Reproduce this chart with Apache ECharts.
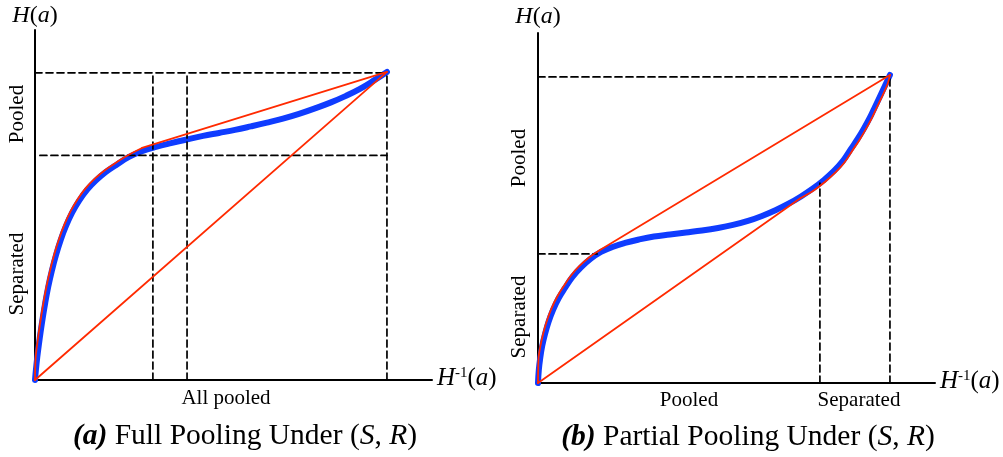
<!DOCTYPE html>
<html>
<head>
<meta charset="utf-8">
<script src="https://cdn.jsdelivr.net/npm/echarts@6/dist/echarts.min.js"></script>
<style>
html,body{margin:0;padding:0;background:#fff;}
#chart{width:1003px;height:457px;}
</style>
</head>
<body>
<div id="chart"></div>
<script>
// ---------- data (units: endpoint of curve = (100,100)) ----------
const leftBlue = [[0,0],[0.28,3.57],[0.65,7.47],[1.08,11.36],[1.59,15.58],[2.19,20.13],[2.90,25.0],[3.75,30.19],[4.77,35.39],[5.97,40.58],[7.30,45.45],[8.81,50.0],[10.51,54.22],[12.5,58.12],[14.77,61.69],[17.33,64.77],[20.17,67.53],[23.30,69.97],[26.70,72.40],[30.40,74.25],[34.38,75.65],[38.64,76.88],[43.18,78.08],[47.73,79.22],[52.27,80.19],[56.82,81.17],[61.36,82.31],[65.91,83.51],[70.45,84.81],[75.0,86.36],[79.55,88.15],[84.09,90.10],[88.35,92.21],[92.33,94.48],[96.31,97.24],[100,100]];
const leftRedCurve = [[0,0],[0.06,4.06],[0.23,7.95],[0.65,11.85],[1.16,16.07],[1.76,20.62],[2.47,25.49],[3.32,30.68],[4.35,35.88],[5.54,41.07],[6.88,45.94],[8.38,50.49],[10.09,54.71],[12.07,58.60],[14.35,62.18],[16.90,65.26],[19.74,68.02],[22.87,70.45],[26.28,72.89],[30.40,75.32]];
const leftRedTangent = [[30.40,75.32],[100,100]];
const leftChord = [[0,0],[100,100]];
const leftDashed = [
  [[0,99.7],[100,99.7]],
  [[1.4,72.9],[100,72.9]],
  [[33.5,0],[33.5,99.7]],
  [[43.2,0],[43.2,99.7]],
  [[100,0],[100,99.7]]
];

const rightBlue = [[0,0],[0.23,4.22],[0.63,8.12],[1.19,12.01],[1.99,15.91],[2.98,19.81],[4.26,23.70],[5.82,27.44],[7.67,30.84],[9.80,34.42],[12.22,37.50],[14.91,40.26],[17.90,42.53],[21.16,44.16],[24.72,45.45],[28.69,46.59],[32.95,47.56],[37.50,48.21],[42.05,48.86],[46.59,49.51],[51.14,50.32],[55.40,51.30],[59.66,52.60],[63.64,54.22],[67.61,56.17],[71.31,58.28],[74.72,60.55],[78.13,63.15],[81.25,65.91],[84.09,68.83],[86.65,72.08],[88.92,75.97],[90.91,79.38],[92.61,82.63],[94.32,86.20],[95.74,89.61],[97.02,92.69],[98.15,95.45],[99.15,97.89],[100,100]];
const rightRedUpperCurve = [[0,0],[0.06,4.71],[0.20,8.60],[0.77,12.50],[1.56,16.40],[2.56,20.29],[3.84,24.19],[5.40,27.92],[7.24,31.33],[9.38,34.90],[11.79,37.99],[14.49,40.75],[17.61,43.18]];
const rightRedUpperLine = [[17.61,43.18],[100,100]];
const rightRedLowerLine = [[0,0],[74.43,59.90]];
const rightRedLowerCurve = [[74.43,59.90],[78.55,62.66],[81.68,65.42],[84.52,68.34],[87.07,71.59],[89.35,75.49],[91.34,78.90],[93.04,82.14],[94.74,85.71],[96.16,89.12],[97.44,92.21],[98.58,94.97],[99.43,97.40],[100,100]];
const rightDashed = [
  [[0,99.35],[100,99.35]],
  [[0,41.9],[16.8,41.9]],
  [[80.1,0],[80.1,64.9]],
  [[100,0],[100,99.35]]
];

const xMax = 112.8, yMax = 113.6;
const BLUE = '#0f3cff', RED = '#ff2a00';
const SERIF = "'Liberation Serif','Times New Roman',serif";

// ---------- chart ----------
const chart = echarts.init(document.getElementById('chart'), null, {renderer:'canvas'});

function axisX(i){return {gridIndex:i,type:'value',min:0,max:xMax,axisLine:{show:true,onZero:false,lineStyle:{color:'#000',width:2}},axisTick:{show:false},axisLabel:{show:false},splitLine:{show:false}};}
function axisY(i){return {gridIndex:i,type:'value',min:0,max:yMax,axisLine:{show:true,onZero:false,lineStyle:{color:'#000',width:2}},axisTick:{show:false},axisLabel:{show:false},splitLine:{show:false}};}

const series = [];
function addLine(idx, data, color, width, smooth, type, z){
  series.push({type:'line',xAxisIndex:idx,yAxisIndex:idx,data:data,showSymbol:false,symbol:'none',smooth:smooth,
    lineStyle:{color:color,width:width,type:type||'solid',cap:'round',join:'round'},silent:true,z:z,animation:false,clip:false});
}
const SM = 0.4;
// left
addLine(0,leftBlue,BLUE,6,SM,'solid',2);
leftDashed.forEach(d=>addLine(0,d,'#000',1.7,false,[7,4],3));
addLine(0,leftChord,RED,1.8,false,'solid',4);
addLine(0,leftRedCurve,RED,1.8,SM,'solid',4);
addLine(0,leftRedTangent,RED,1.8,false,'solid',4);
// right
addLine(1,rightBlue,BLUE,6,SM,'solid',2);
rightDashed.forEach(d=>addLine(1,d,'#000',1.7,false,[7,4],3));
addLine(1,rightRedUpperCurve,RED,1.8,SM,'solid',4);
addLine(1,rightRedUpperLine,RED,1.8,false,'solid',4);
addLine(1,rightRedLowerLine,RED,1.8,false,'solid',4);
addLine(1,rightRedLowerCurve,RED,1.8,SM,'solid',4);

const richBase = {
  i:{fontStyle:'italic',fontFamily:SERIF,fontSize:24,fill:'#000'},
  n:{fontFamily:SERIF,fontSize:24,fill:'#000'}
};
const richAxis = {
  i:{fontStyle:'italic',fontFamily:SERIF,fontSize:25,fill:'#000'},
  n:{fontFamily:SERIF,fontSize:25,fill:'#000'},
  sup:{fontFamily:SERIF,fontSize:15,fill:'#000',verticalAlign:'top',padding:[0,0,10,0]}
};
const richCap = {
  b:{fontStyle:'italic',fontWeight:'bold',fontFamily:SERIF,fontSize:29.5,fill:'#000'},
  n:{fontFamily:SERIF,fontSize:29.5,fill:'#000'},
  i:{fontStyle:'italic',fontFamily:SERIF,fontSize:29.5,fill:'#000'}
};
function txt(x,y,text,opts){
  return Object.assign({type:'text',x:x,y:y,silent:true,z:10,
    style:{text:text,fontFamily:SERIF,fontSize:21,fill:'#000',align:'center',verticalAlign:'middle'}},opts||{});
}
function rich(x,y,text,r,align){
  return {type:'text',x:x,y:y,silent:true,z:10,style:{text:text,rich:r,fontFamily:SERIF,fontSize:24,fill:'#000',align:align||'center',verticalAlign:'middle'}};
}

const graphics = [
  rich(35,16,'{i|H}{n|(}{i|a}{n|)}',richBase),
  rich(538,17,'{i|H}{n|(}{i|a}{n|)}',richBase),
  rich(437,378,'{i|H}{sup|-1}{n|(}{i|a}{n|)}',richAxis,'left'),
  rich(940,381,'{i|H}{sup|-1}{n|(}{i|a}{n|)}',richAxis,'left'),
  txt(17,114,'Pooled',{rotation:Math.PI/2}),
  txt(17,274,'Separated',{rotation:Math.PI/2}),
  txt(519,158,'Pooled',{rotation:Math.PI/2}),
  txt(519,317,'Separated',{rotation:Math.PI/2}),
  txt(226,398,'All pooled'),
  txt(689,400,'Pooled'),
  txt(859,400,'Separated'),
  rich(245,436,'{b|(a)}{n| Full Pooling Under (}{i|S}{n|, }{i|R}{n|)}',richCap),
  rich(748,437,'{b|(b)}{n| Partial Pooling Under (}{i|S}{n|, }{i|R}{n|)}',richCap)
];

chart.setOption({
  animation:false,
  backgroundColor:'#fff',
  grid:[
    {left:35,top:30,width:397,height:350,containLabel:false},
    {left:538,top:33,width:397,height:350,containLabel:false}
  ],
  xAxis:[axisX(0),axisX(1)],
  yAxis:[axisY(0),axisY(1)],
  series:series,
  graphic:graphics
});
</script>
</body>
</html>
